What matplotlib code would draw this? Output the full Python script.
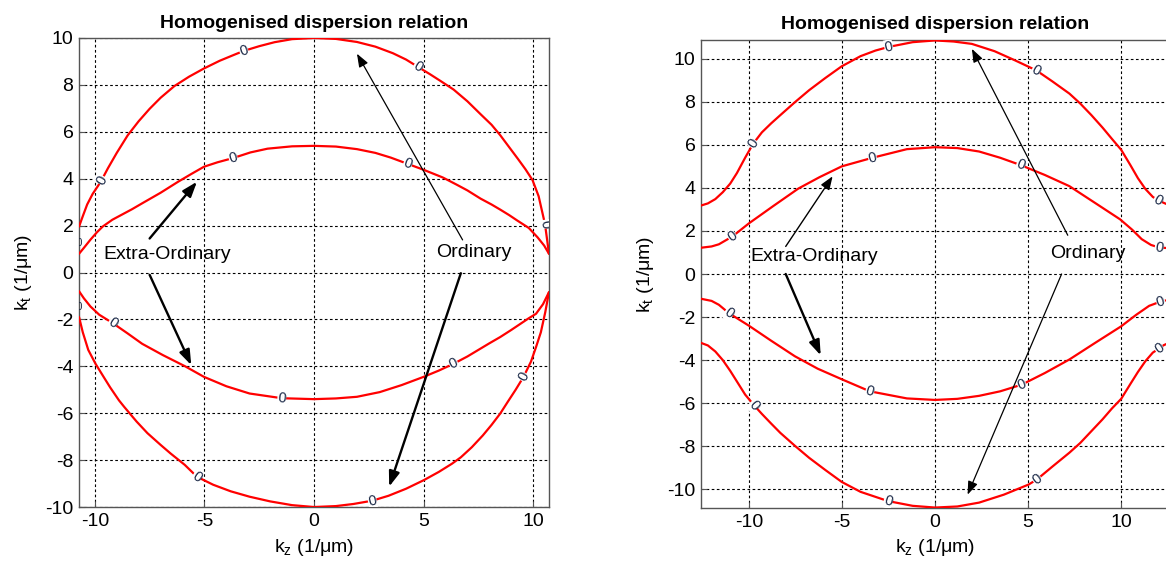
import numpy as np
import matplotlib
matplotlib.use("Agg")
import matplotlib.pyplot as plt

plt.rcParams['font.family'] = ['Liberation Sans', 'DejaVu Sans']
plt.rcParams['mathtext.fontset'] = 'custom'
plt.rcParams['mathtext.rm'] = 'Liberation Sans'

# ---------------- data ----------------
# Left panel
L_ord_up_x = [-10.72, -10.55, -10.35, -10.1, -9.85, -9.69, -9.4, -9.0, -8.5, -8.0, -7.5, -7.0, -6.37, -5.7,
              -5.02, -4.3, -3.6, -3.2, -2.5, -1.8, -1.0, 0.0, 1.0, 1.96, 2.8, 3.6, 4.2, 4.74, 5.3, 5.8,
              6.37, 7.0, 7.6, 8.1, 8.5, 8.9, 9.3, 9.65, 9.97, 10.25, 10.54, 10.65, 10.72]
L_ord_up_y = [1.96, 2.4, 2.9, 3.35, 3.7, 3.94, 4.45, 5.1, 5.85, 6.45, 6.98, 7.45, 7.95, 8.35,
              8.7, 9.03, 9.3, 9.45, 9.65, 9.82, 9.95, 10.0, 9.96, 9.83, 9.63, 9.35, 9.08, 8.77, 8.45, 8.15,
              7.8, 7.3, 6.75, 6.3, 5.85, 5.35, 4.85, 4.4, 3.94, 3.25, 2.06, 1.3, 0.8]
L_ext_up_x = [-10.72, -10.5, -10.2, -9.9, -9.64, -9.2, -8.8, -8.3, -7.84, -7.0, -6.2, -5.6, -5.02, -4.4,
              -3.69, -2.9, -2.12, -1.0, 0.0, 1.0, 1.96, 2.8, 3.5, 4.28, 5.0, 5.88, 6.5, 7.0, 7.6, 8.1,
              8.5, 8.9, 9.3, 9.8, 10.2, 10.5, 10.72]
L_ext_up_y = [0.8, 1.05, 1.4, 1.72, 1.96, 2.25, 2.45, 2.7, 2.95, 3.4, 3.87, 4.2, 4.51, 4.7,
              4.88, 5.12, 5.28, 5.38, 5.4, 5.37, 5.26, 5.1, 4.9, 4.63, 4.38, 4.05, 3.75, 3.5, 3.15, 2.9,
              2.68, 2.45, 2.2, 1.9, 1.5, 1.15, 0.8]
L_ext_lo_x = [-10.72, -10.5, -10.2, -9.8, -9.18, -8.5, -7.84, -6.9, -5.88, -5.02, -4.0, -2.94, -1.47, 0.0,
              1.0, 1.96, 3.0, 4.0, 5.0, 5.7, 6.37, 7.0, 7.5, 8.0, 8.5, 9.0, 9.4, 9.8, 10.13, 10.45, 10.72]
L_ext_lo_y = [-0.8, -1.1, -1.45, -1.8, -2.16, -2.6, -3.04, -3.52, -4.0, -4.45, -4.85, -5.16, -5.36, -5.4,
              -5.37, -5.3, -5.1, -4.8, -4.45, -4.18, -3.89, -3.58, -3.3, -3.02, -2.75, -2.45, -2.2, -1.95,
              -1.76, -1.35, -0.84]
L_ord_lo_x = [-10.72, -10.55, -10.3, -9.97, -9.6, -9.3, -8.9, -8.66, -8.1, -7.6, -7.0, -6.54, -5.9, -5.34,
              -4.6, -3.8, -2.94, -2.0, -1.0, 0.0, 1.0, 1.8, 2.66, 3.4, 4.2, 5.02, 5.7, 6.3, 6.7, 7.2, 7.7,
              8.1, 8.5, 8.85, 9.2, 9.56, 9.9, 10.13, 10.35, 10.55, 10.72]
L_ord_lo_y = [-1.9, -2.55, -3.3, -3.89, -4.45, -4.9, -5.45, -5.73, -6.35, -6.85, -7.35, -7.72, -8.2, -8.71,
              -9.05, -9.33, -9.56, -9.76, -9.92, -10.0, -9.96, -9.87, -9.73, -9.52, -9.22, -8.85, -8.5,
              -8.15, -7.88, -7.45, -6.95, -6.5, -6.01, -5.5, -5.0, -4.45, -3.8, -3.18, -2.55, -1.7, -0.84]
L_lab_x = [-9.69, -3.2, 4.74, 10.54, -3.69, 4.28, -9.18, -1.47, 6.37, -5.34, 2.66, 9.56]
L_lab_y = [3.94, 9.45, 8.77, 2.06, 4.88, 4.63, -2.16, -5.36, -3.89, -8.71, -9.73, -4.45]
L_edge_lab_y = [1.25, -1.48]

# Right panel
R_ord_up_x = [-12.57, -12.2, -11.8, -11.4, -11.0, -10.64, -10.2, -9.77, -9.3, -8.8, -8.31, -7.5, -6.76,
              -5.9, -5.01, -4.0, -3.2, -2.49, -1.2, 0.0, 1.0, 1.98, 3.2, 4.31, 5.44, 6.3, 7.22, 7.8, 8.4,
              9.0, 9.5, 10.0, 10.5, 10.9, 11.3, 11.7, 11.98, 12.3, 12.57]
R_ord_up_y = [3.18, 3.28, 3.48, 3.8, 4.2, 4.69, 5.4, 6.05, 6.58, 7.0, 7.38, 8.0, 8.54,
              9.1, 9.65, 10.12, 10.38, 10.55, 10.77, 10.85, 10.8, 10.69, 10.35, 9.92, 9.46, 8.95, 8.38,
              7.92, 7.38, 6.8, 6.28, 5.77, 5.05, 4.45, 3.95, 3.58, 3.43, 3.3, 3.2]
R_ext_up_x = [-12.57, -12.0, -11.61, -10.89, -10.0, -8.7, -7.34, -6.2, -5.01, -3.36, -1.51, 0.0, 1.2,
              2.37, 3.5, 4.6, 5.9, 7.22, 8.6, 9.94, 10.6, 11.1, 11.6, 12.04, 12.57]
R_ext_up_y = [1.22, 1.28, 1.38, 1.74, 2.35, 3.15, 3.97, 4.5, 5.0, 5.4, 5.8, 5.89, 5.85,
              5.69, 5.4, 5.06, 4.6, 4.08, 3.3, 2.54, 2.05, 1.62, 1.35, 1.23, 1.2]
R_ext_lo_x = [-12.57, -12.0, -11.61, -11.07, -10.0, -8.8, -7.53, -6.3, -5.01, -3.5, -1.51, 0.0, 1.2,
              2.37, 3.5, 4.66, 5.9, 7.22, 8.6, 10.0, 10.8, 11.5, 12.12, 12.57]
R_ext_lo_y = [-1.15, -1.25, -1.43, -1.82, -2.4, -3.1, -3.82, -4.4, -4.89, -5.45, -5.78, -5.85, -5.8,
              -5.66, -5.45, -5.14, -4.6, -3.97, -3.2, -2.43, -1.9, -1.48, -1.28, -1.2]
R_ord_lo_x = [-12.57, -12.2, -11.8, -11.4, -11.0, -10.6, -10.2, -9.73, -9.3, -8.8, -8.31, -7.5, -6.76,
              -5.9, -5.01, -4.0, -2.52, -1.2, 0.0, 1.2, 2.37, 3.7, 5.03, 5.48, 6.3, 7.22, 7.8, 8.4, 9.0,
              9.5, 10.0, 10.5, 10.9, 11.3, 11.7, 12.04, 12.3, 12.57]
R_ord_lo_y = [-3.2, -3.32, -3.6, -4.0, -4.5, -5.05, -5.6, -6.09, -6.5, -6.95, -7.38, -8.0, -8.54,
              -9.1, -9.66, -10.12, -10.55, -10.77, -10.85, -10.8, -10.62, -10.25, -9.78, -9.54, -8.95,
              -8.3, -7.85, -7.3, -6.75, -6.25, -5.8, -5.1, -4.55, -4.05, -3.65, -3.46, -3.3, -3.2]
R_lab_x = [-9.77, -2.49, 5.44, 11.98, -10.89, -3.36, 4.6, 12.04, -11.07, -3.5, 4.66, 12.12,
           -9.73, -2.52, 5.48, 12.04]
R_lab_y = [6.05, 10.55, 9.46, 3.43, 1.74, 5.4, 5.06, 1.23, -1.82, -5.45, -5.14, -1.28,
           -6.09, -10.55, -9.54, -3.46]

L_xticks = [-10, -5, 0, 5, 10]
L_yticks = [-10, -8, -6, -4, -2, 0, 2, 4, 6, 8, 10]
R_xticks = [-10, -5, 0, 5, 10]
R_yticks = [-10, -8, -6, -4, -2, 0, 2, 4, 6, 8, 10]

TITLE = 'Homogenised dispersion relation'
XLABEL = 'k$_\\mathregular{z}$ (1/\u03bcm)'
YLABEL = 'k$_\\mathregular{t}$ (1/\u03bcm)'

# ---------------- figure ----------------
fig = plt.figure(figsize=(11.66, 5.66), dpi=100)
axL = fig.add_axes([0.0678, 0.1042, 0.4030, 0.8287])
axR = fig.add_axes([0.6012, 0.1025, 0.4014, 0.8268])

RED = '#ff0000'
LAB_C = '#1c2a48'
FS = 14


def style(ax, xlim, ylim, xt, yt, pad):
    ax.set_xlim(*xlim)
    ax.set_ylim(*ylim)
    ax.set_xticks(xt)
    ax.set_yticks(yt)
    ax.set_xticklabels([f'{v:g}' for v in xt])
    ax.set_yticklabels([f'{v:g}' for v in yt])
    ax.grid(True, color='black', linestyle=(0, (2.4, 2.2)), linewidth=0.8)
    ax.set_axisbelow(True)
    for s in ax.spines.values():
        s.set_color('#555555')
        s.set_linewidth(1.0)
    ax.tick_params(direction='in', length=4, width=0.8, color='#555555', labelsize=FS, pad=4)
    ax.set_title(TITLE, fontsize=FS, fontweight='bold', pad=pad)
    ax.set_xlabel(XLABEL, fontsize=FS, labelpad=5)
    ax.set_ylabel(YLABEL, fontsize=FS, labelpad=8)


style(axL, (-10.72, 10.72), (-10, 10), L_xticks, L_yticks, 7)
style(axR, (-12.57, 12.57), (-10.87, 10.87), R_xticks, R_yticks, 8)

L_curves = [(L_ord_up_x, L_ord_up_y), (L_ext_up_x, L_ext_up_y),
            (L_ext_lo_x, L_ext_lo_y), (L_ord_lo_x, L_ord_lo_y)]
R_curves = [(R_ord_up_x, R_ord_up_y), (R_ext_up_x, R_ext_up_y),
            (R_ext_lo_x, R_ext_lo_y), (R_ord_lo_x, R_ord_lo_y)]

for ax, curves in ((axL, L_curves), (axR, R_curves)):
    for cx, cy in curves:
        ax.plot(cx, cy, color=RED, lw=1.6, solid_joinstyle='round', solid_capstyle='round', zorder=3)

fig.canvas.draw()


def label_angle(ax, curves, lx, ly):
    best = None
    p = ax.transData.transform((lx, ly))
    for cx, cy in curves:
        pts = ax.transData.transform(np.column_stack([cx, cy]))
        d = np.hypot(pts[:, 0] - p[0], pts[:, 1] - p[1])
        i = int(np.argmin(d))
        if best is None or d[i] < best[0]:
            i0 = max(i - 1, 0)
            i1 = min(i + 1, len(pts) - 1)
            v = pts[i1] - pts[i0]
            best = (d[i], np.degrees(np.arctan2(v[1], v[0])))
    a = best[1]
    while a > 90:
        a -= 180
    while a < -90:
        a += 180
    return a


for ax, curves, lxs, lys in ((axL, L_curves, L_lab_x, L_lab_y), (axR, R_curves, R_lab_x, R_lab_y)):
    for lx, ly in zip(lxs, lys):
        ang = label_angle(ax, curves, lx, ly)
        ax.text(lx, ly, '0', fontsize=10.5, color=LAB_C, rotation=ang, rotation_mode='anchor',
                ha='center', va='center', zorder=5, clip_on=True,
                bbox=dict(facecolor='white', edgecolor='none', pad=0.2))

for ly in L_edge_lab_y:
    axL.text(-10.72, ly, '0', fontsize=7, color=LAB_C, ha='center', va='center', zorder=5, clip_on=True)


def arrow(ax, tail, head, lw, hl, hw):
    ax.annotate('', xy=head, xytext=tail,
                arrowprops=dict(arrowstyle=f'-|>,head_length={hl},head_width={hw}',
                                color='black', lw=lw, shrinkA=0, shrinkB=0),
                zorder=6)


# Left annotations
axL.text(-6.7, 0.78, 'Extra-Ordinary', fontsize=FS, ha='center', va='center', zorder=7)
axL.text(7.3, 0.85, 'Ordinary', fontsize=FS, ha='center', va='center', zorder=7)
arrow(axL, (-7.5, 1.45), (-5.34, 3.87), 1.7, 0.9, 0.32)
arrow(axL, (-7.5, -0.1), (-5.6, -3.95), 1.7, 0.9, 0.32)
arrow(axL, (6.78, 1.39), (1.96, 9.33), 0.9, 0.8, 0.3)
arrow(axL, (6.7, -0.03), (3.43, -9.13), 1.7, 0.9, 0.32)

# Right annotations
axR.text(-6.5, 0.8, 'Extra-Ordinary', fontsize=FS, ha='center', va='center', zorder=7)
axR.text(8.2, 0.97, 'Ordinary', fontsize=FS, ha='center', va='center', zorder=7)
arrow(axR, (-8.02, 1.28), (-5.5, 4.54), 1.0, 0.8, 0.3)
arrow(axR, (-8.02, 0.0), (-6.14, -3.78), 1.7, 0.9, 0.32)
arrow(axR, (7.13, 1.8), (1.98, 10.46), 0.9, 0.8, 0.3)
arrow(axR, (6.8, 0.0), (1.75, -10.25), 0.9, 0.8, 0.3)

fig.savefig('out.png', dpi=100)
